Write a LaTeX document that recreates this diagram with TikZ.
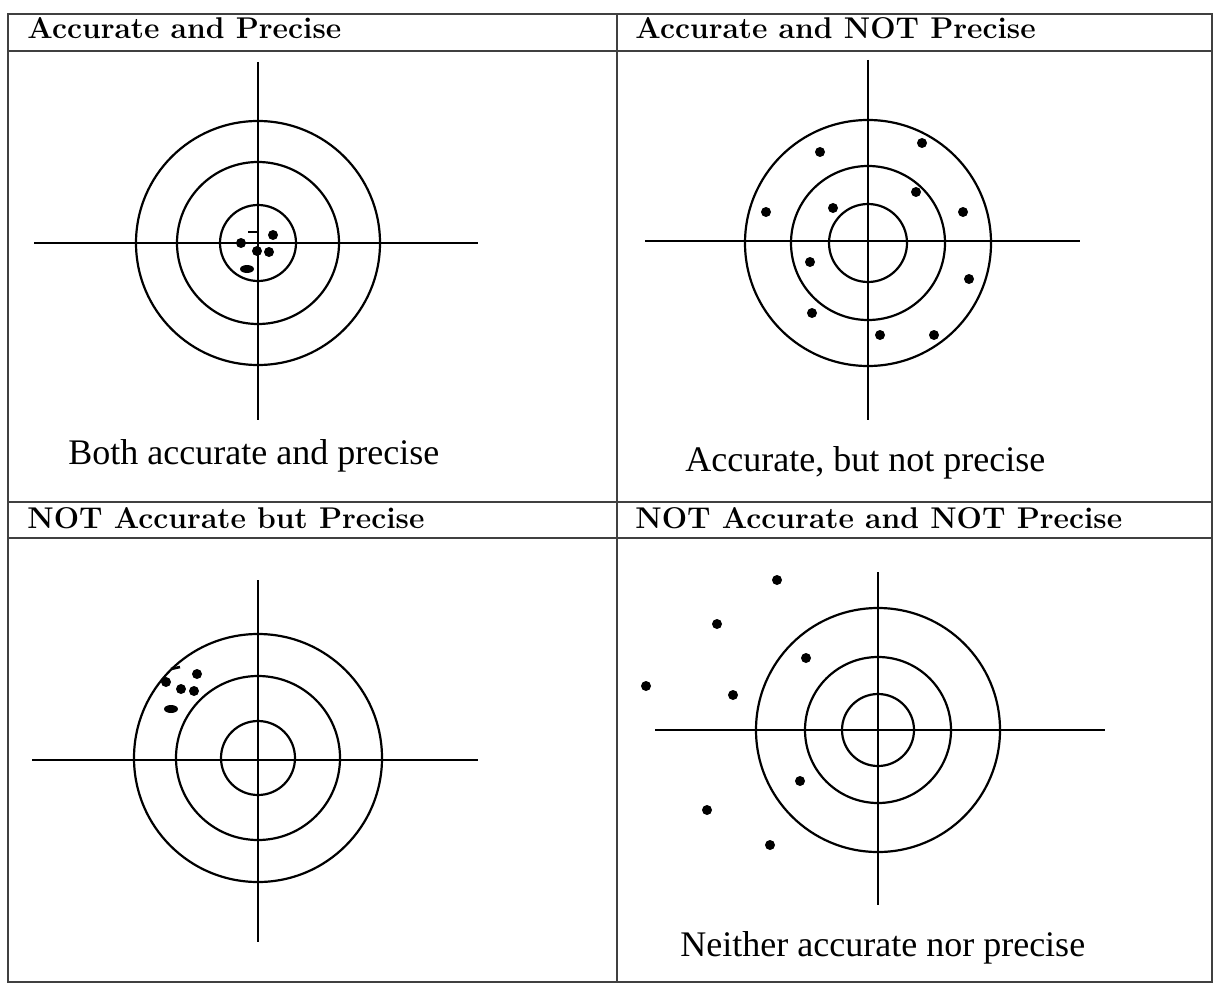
\documentclass[tikz,border=0pt]{standalone}
\usepackage{fontspec}
\newfontfamily\capfont{Liberation Serif}

\begin{document}
\begin{tikzpicture}[
    x=0.5pt, y=-0.5pt,
    grid/.style={draw=black!75, line width=0.8pt},
    ring/.style={draw, line width=1.1pt},
    axis/.style={draw, line width=0.8pt},
    hit/.style={fill=black},
    heading/.style={anchor=base west, inner sep=0pt, font=\fontsize{15}{18}\selectfont\bfseries},
    caption/.style={anchor=west, inner sep=0pt, font=\capfont\fontsize{18}{20}\selectfont}
]
\useasboundingbox (0,0) rectangle (1213,984);

% table
\draw[grid] (8,14) rectangle (1212,982);
\draw[grid] (8,51) -- (1212,51);
\draw[grid] (8,502) -- (1212,502);
\draw[grid] (8,538) -- (1212,538);
\draw[grid] (617,14) -- (617,982);

\node[heading] (h1) at (27,39) {Accurate and Precise};
\node[heading] (h2) at (635,39) {Accurate and NOT Precise};
\node[heading] (h3) at (27,528) {NOT Accurate but Precise};
\node[heading] (h4) at (635,528) {NOT Accurate and NOT Precise};

% targets
\foreach \cx/\cy/\ra/\rb/\rc in {258/243/122/81/38, 868/243/123/77/39, 258/758/124/82/37, 878/730/122/73/36} {
    \draw[ring] (\cx,\cy) circle[radius=\ra];
    \draw[ring] (\cx,\cy) circle[radius=\rb];
    \draw[ring] (\cx,\cy) circle[radius=\rc];
}
\draw[axis] (258,62) -- (258,420);
\draw[axis] (34,243) -- (478,243);
\draw[axis] (868,60) -- (868,420);
\draw[axis] (645,241) -- (1080,241);
\draw[axis] (258,580) -- (258,942);
\draw[axis] (32,760) -- (478,760);
\draw[axis] (878,572) -- (878,905);
\draw[axis] (655,730) -- (1105,730);

% hits
\foreach \px/\py in {241/243, 257/251, 269/252, 273/235,
                     166/682, 181/689, 194/691, 197/674} {
    \fill[hit] (\px,\py) circle[radius=5];
}
\fill[hit] (247,269) ellipse[x radius=7, y radius=4];
\fill[hit] (171,709) ellipse[x radius=7, y radius=4];
\draw[line width=1.3pt] (248,232) -- (257,232);
\draw[line width=1.3pt] (171,669) -- (180,667);

\foreach \px/\py in {820/152, 922/143, 766/212, 833/208, 916/192, 963/212,
                     810/262, 969/279, 812/313, 880/335, 934/335,
                     777/580, 717/624, 646/686, 733/695, 806/658,
                     800/781, 707/810, 770/845} {
    \fill[hit] (\px,\py) circle[radius=5];
}

\node[caption] (c1) at (68,456) {Both accurate and precise};
\node[caption] (c2) at (685,463) {Accurate, but not precise};
\node[caption] (c4) at (680,948) {Neither accurate nor precise};

\end{tikzpicture}
\end{document}
